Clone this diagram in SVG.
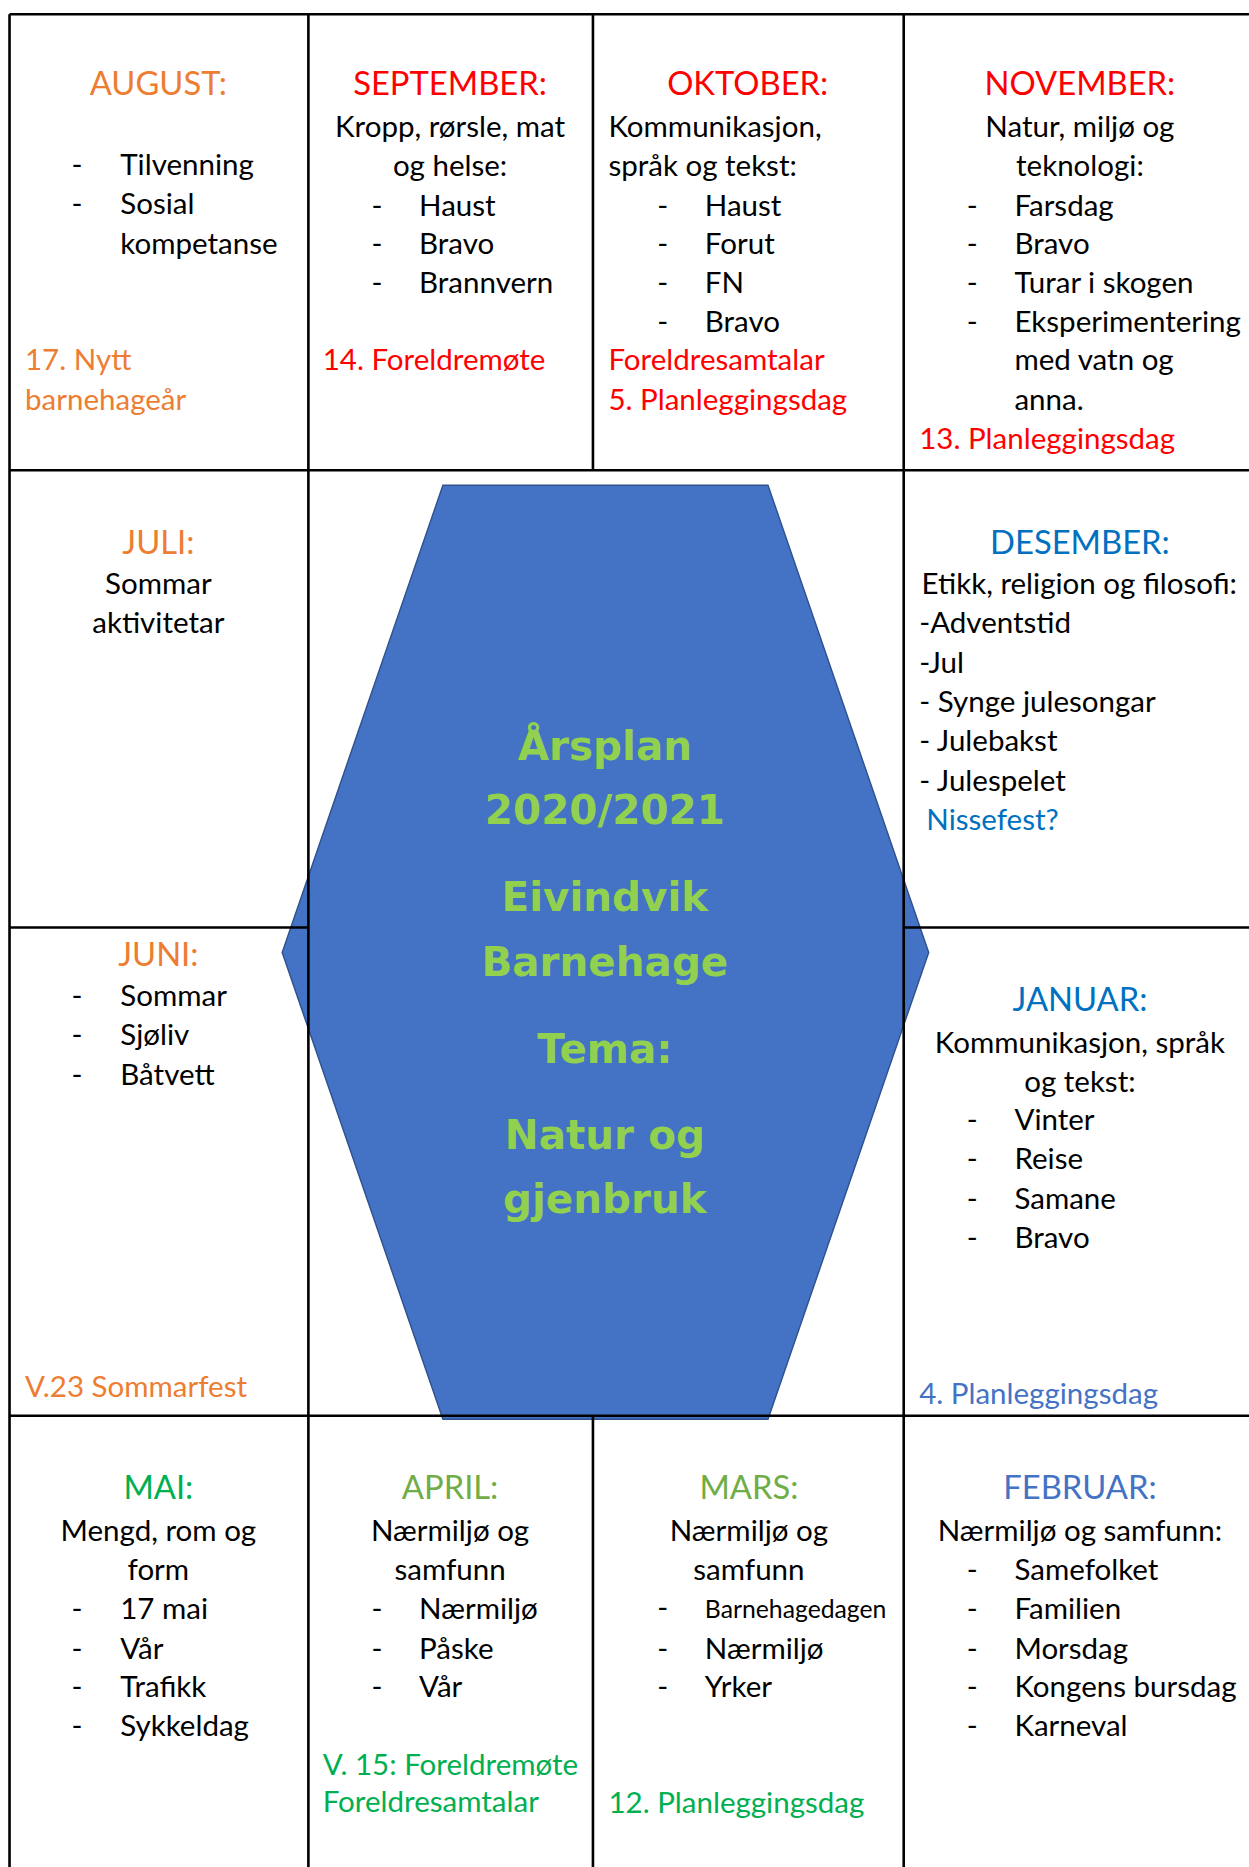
<svg xmlns="http://www.w3.org/2000/svg" width="1249" height="1867" viewBox="0 0 1249 1867">
<style>
.t{font-family:Lato,"Liberation Sans",sans-serif;font-size:24.8px;fill:#000}
.h{font-size:27.5px}
.s{font-size:20.8px}
.c{text-anchor:middle}
.or{fill:#ED7D31}
.rd{fill:#FF0000}
.bl{fill:#0070C0}
.bm{fill:#4472C4}
.gr{fill:#00B050}
.lg{fill:#70AD47}
.hx{font-family:"DejaVu Sans","Liberation Sans",sans-serif;font-weight:bold;font-size:34px;fill:#92D050;text-anchor:middle}
.ln{stroke:#000;stroke-width:2.2;fill:none}
</style>
<rect width="1249" height="1867" fill="#fff"/>
<g transform="scale(1.190658)">
<g id="hexagon">
<polygon points="372,407.5 645,407.5 780,800 645,1192 372,1192 237,800" fill="#4472C4" stroke="#2F528F" stroke-width="1.2"/>
<text class="hx" x="508" y="638">Årsplan</text>
<text class="hx" x="508" y="692">2020/2021</text>
<text class="hx" x="508" y="765">Eivindvik</text>
<text class="hx" x="508" y="820">Barnehage</text>
<text class="hx" x="508" y="893">Tema:</text>
<text class="hx" x="508" y="965">Natur og</text>
<text class="hx" x="508" y="1019">gjenbruk</text>
</g>
<g id="grid">
<line class="ln" x1="8" y1="12" x2="1050" y2="12"/>
<line class="ln" x1="8" y1="395" x2="1050" y2="395"/>
<line class="ln" x1="8" y1="779" x2="259" y2="779"/>
<line class="ln" x1="759" y1="779" x2="1050" y2="779"/>
<line class="ln" x1="8" y1="1189" x2="1050" y2="1189"/>
<line class="ln" x1="8" y1="12" x2="8" y2="1570"/>
<line class="ln" x1="259" y1="12" x2="259" y2="1570"/>
<line class="ln" x1="498" y1="12" x2="498" y2="395"/>
<line class="ln" x1="498" y1="1189" x2="498" y2="1570"/>
<line class="ln" x1="759" y1="12" x2="759" y2="1570"/>
</g>
<g id="august" class="t">
<text class="h c or" x="133" y="80">AUGUST:</text>
<text x="60" y="147">-</text><text x="101" y="147">Tilvenning</text>
<text x="60" y="180">-</text><text x="101" y="180">Sosial</text>
<text x="101" y="213">kompetanse</text>
<text class="or" x="21" y="311">17. Nytt</text>
<text class="or" x="21" y="344">barnehageår</text>
</g>
<g id="september" class="t">
<text class="h c rd" x="378" y="80">SEPTEMBER:</text>
<text class="c" x="378" y="115">Kropp, rørsle, mat</text>
<text class="c" x="378" y="148">og helse:</text>
<text x="312" y="181">-</text><text x="352" y="181">Haust</text>
<text x="312" y="213">-</text><text x="352" y="213">Bravo</text>
<text x="312" y="246">-</text><text x="352" y="246">Brannvern</text>
<text class="rd" x="271" y="311">14. Foreldremøte</text>
</g>
<g id="oktober" class="t">
<text class="h c rd" x="628" y="80">OKTOBER:</text>
<text x="511" y="115">Kommunikasjon,</text>
<text x="511" y="148">språk og tekst:</text>
<text x="552" y="181">-</text><text x="592" y="181">Haust</text>
<text x="552" y="213">-</text><text x="592" y="213">Forut</text>
<text x="552" y="246">-</text><text x="592" y="246">FN</text>
<text x="552" y="279">-</text><text x="592" y="279">Bravo</text>
<text class="rd" x="511" y="311">Foreldresamtalar</text>
<text class="rd" x="511" y="344">5. Planleggingsdag</text>
</g>
<g id="november" class="t">
<text class="h c rd" x="907" y="80">NOVEMBER:</text>
<text class="c" x="907" y="115">Natur, miljø og</text>
<text class="c" x="907" y="148">teknologi:</text>
<text x="812" y="181">-</text><text x="852" y="181">Farsdag</text>
<text x="812" y="213">-</text><text x="852" y="213">Bravo</text>
<text x="812" y="246">-</text><text x="852" y="246">Turar i skogen</text>
<text x="812" y="279">-</text><text x="852" y="279">Eksperimentering</text>
<text x="852" y="311">med vatn og</text>
<text x="852" y="344">anna.</text>
<text class="rd" x="772" y="377">13. Planleggingsdag</text>
</g>
<g id="juli" class="t">
<text class="h c or" x="133" y="465">JULI:</text>
<text class="c" x="133" y="499">Sommar</text>
<text class="c" x="133" y="532">aktivitetar</text>
</g>
<g id="desember" class="t">
<text class="h c bl" x="907" y="465">DESEMBER:</text>
<text x="774" y="499">Etikk, religion og filosofi:</text>
<text x="772" y="532">-Adventstid</text>
<text x="772" y="565">-Jul</text>
<text x="772" y="598">- Synge julesongar</text>
<text x="772" y="631">- Julebakst</text>
<text x="772" y="664">- Julespelet</text>
<text class="bl" x="778" y="697">Nissefest?</text>
</g>
<g id="juni" class="t">
<text class="h c or" x="133" y="811">JUNI:</text>
<text x="60" y="845">-</text><text x="101" y="845">Sommar</text>
<text x="60" y="878">-</text><text x="101" y="878">Sjøliv</text>
<text x="60" y="911">-</text><text x="101" y="911">Båtvett</text>
<text class="or" x="21" y="1173">V.23 Sommarfest</text>
</g>
<g id="januar" class="t">
<text class="h c bl" x="907" y="849">JANUAR:</text>
<text class="c" x="907" y="884">Kommunikasjon, språk</text>
<text class="c" x="907" y="917">og tekst:</text>
<text x="812" y="949">-</text><text x="852" y="949">Vinter</text>
<text x="812" y="982">-</text><text x="852" y="982">Reise</text>
<text x="812" y="1015">-</text><text x="852" y="1015">Samane</text>
<text x="812" y="1048">-</text><text x="852" y="1048">Bravo</text>
<text class="bm" x="772" y="1179">4. Planleggingsdag</text>
</g>
<g id="mai" class="t">
<text class="h c gr" x="133" y="1259">MAI:</text>
<text class="c" x="133" y="1294">Mengd, rom og</text>
<text class="c" x="133" y="1327">form</text>
<text x="60" y="1360">-</text><text x="101" y="1360">17 mai</text>
<text x="60" y="1393">-</text><text x="101" y="1393">Vår</text>
<text x="60" y="1425">-</text><text x="101" y="1425">Trafikk</text>
<text x="60" y="1458">-</text><text x="101" y="1458">Sykkeldag</text>
</g>
<g id="april" class="t">
<text class="h c lg" x="378" y="1259">APRIL:</text>
<text class="c" x="378" y="1294">Nærmiljø og</text>
<text class="c" x="378" y="1327">samfunn</text>
<text x="312" y="1360">-</text><text x="352" y="1360">Nærmiljø</text>
<text x="312" y="1393">-</text><text x="352" y="1393">Påske</text>
<text x="312" y="1425">-</text><text x="352" y="1425">Vår</text>
<text class="gr" x="271" y="1491">V. 15: Foreldremøte</text>
<text class="gr" x="271" y="1522">Foreldresamtalar</text>
</g>
<g id="mars" class="t">
<text class="h c lg" x="629" y="1259">MARS:</text>
<text class="c" x="629" y="1294">Nærmiljø og</text>
<text class="c" x="629" y="1327">samfunn</text>
<text x="552" y="1359">-</text><text class="s" x="592" y="1359">Barnehagedagen</text>
<text x="552" y="1393">-</text><text x="592" y="1393">Nærmiljø</text>
<text x="552" y="1425">-</text><text x="592" y="1425">Yrker</text>
<text class="gr" x="511" y="1523">12. Planleggingsdag</text>
</g>
<g id="februar" class="t">
<text class="h c bm" x="907" y="1259">FEBRUAR:</text>
<text class="c" x="907" y="1294">Nærmiljø og samfunn:</text>
<text x="812" y="1327">-</text><text x="852" y="1327">Samefolket</text>
<text x="812" y="1360">-</text><text x="852" y="1360">Familien</text>
<text x="812" y="1393">-</text><text x="852" y="1393">Morsdag</text>
<text x="812" y="1425">-</text><text x="852" y="1425">Kongens bursdag</text>
<text x="812" y="1458">-</text><text x="852" y="1458">Karneval</text>
</g>
</g>
</svg>
